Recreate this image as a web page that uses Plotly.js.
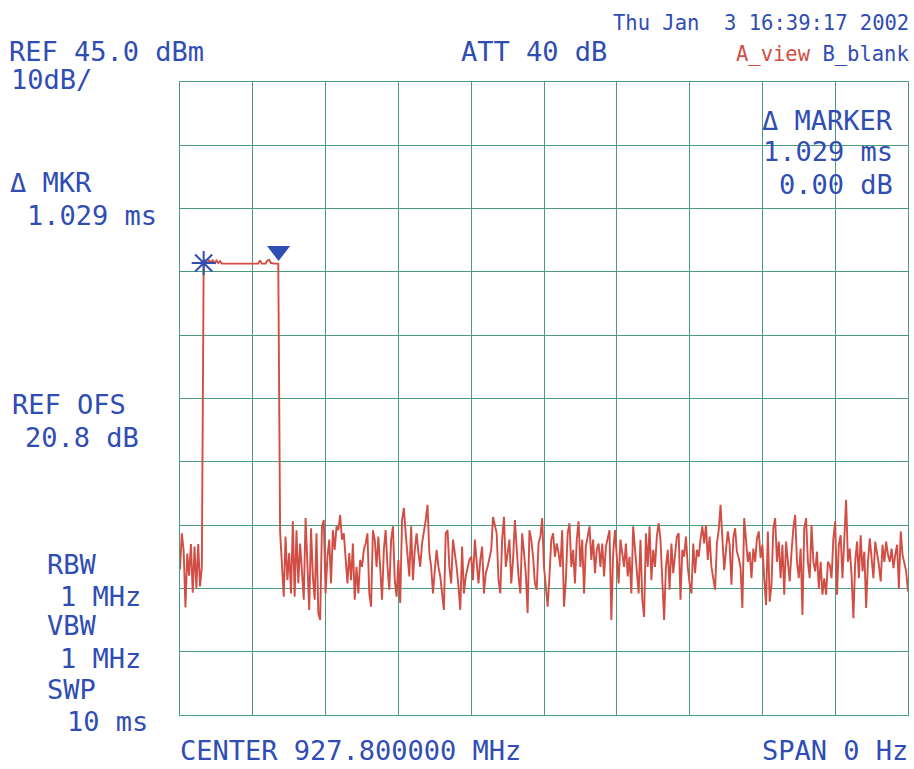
<!DOCTYPE html>
<html><head><meta charset="utf-8">
<script src="https://cdn.plot.ly/plotly-3.0.1.min.js"></script>
<style>html,body{margin:0;padding:0;background:#fff}#chart{width:914px;height:769px}</style>
</head><body><div id="chart"></div>
<script>
// ---- data ----
const SWEEP_MS = 10;          // SWP 10 ms, zero span, time on x
const REF_LEVEL_DBM = 45;     // REF 45.0 dBm
const DB_PER_DIV = 10;        // 10dB/
const N_DIV = 10;

// trace level (dBm), 401 sweep points
const preNoise = [-32.0,-26.3,-29.0,-38.0,-29.5,-33.0,-28.0,-35.7,-28.4,-35.0,-28.0,-34.7,-31.6];
const pulseTop = [16.4,16.8,16.3,16.9,16.4,16.9,16.3,16.8,16.4,16.7,
  16.3,16.3,16.3,16.3,16.3,16.3,16.3,16.3,16.3,16.3,16.3,16.3,16.3,16.3,16.3,16.3,16.3,16.3,16.3,16.3,16.3,
  16.8,16.3,16.3,16.3,16.8,16.9,16.4,16.3,16.3,16.3,16.3];
const noiseA = [-26.0,-32.1,-36.3,-26.8,-33.7,-29.4,-35.8,-24.4,-36.3,-25.8,-34.2,-27.9,-32.1,-36.8,-23.9,-31.6,-38.4,-25.5,-33.1,-36.8,
  -26.3,-38.9,-40.0,-25.2,-24.2,-35.8,-30.0,-27.3,-34.2,-25.8,-28.9,-25.2,-25.8,-23.4,-27.3,-26.3,-30.0,-34.2,-29.4,-33.7,
  -27.9,-36.8,-31.6,-35.8];
const noiseB = [-30.5,-31.6,-28.9,-27.9,-26.3,-35.8,-37.9,-25.8,-27.3,-31.6,-26.8,-32.6,-36.8,-28.9,-25.8,-31.6,-35.2,-27.3,-25.2,-33.7,
  -36.3,-30.5,-37.3,-24.2,-22.3,-26.3,-30.5,-33.1,-25.2,-33.7,-28.9,-26.3,-29.4,-31.6,-27.9,-26.3,-24.2,-21.8,-29.4,-31.6,
  -35.8,-32.1,-28.9,-31.6,-33.1,-35.8,-38.4,-26.3,-25.8,-31.6,-34.2,-27.3,-29.4,-31.6,-34.7,-38.4,-28.4,-35.8,-33.1,-31.6,
  -30.5,-30.0,-33.7,-27.3,-31.6,-34.2,-30.5,-28.4,-35.8,-32.6,-31.6,-30.0,-28.9,-23.7,-25.2,-26.3,-33.7,-35.8,-27.3,-23.7,
  -31.6,-28.9,-27.3,-34.2,-30.5,-24.2,-28.9,-33.1,-35.8,-26.3,-29.4,-32.6,-38.9,-25.8,-27.3,-30.0,-34.2,-35.2,-27.9,-26.8,
  -23.9];
const noiseC = [-31.6,-34.7,-37.9,-33.1,-27.3,-26.3,-30.0,-27.9,-29.4,-31.6,-25.8,-37.9,-33.7,-26.3,-24.7,-31.6,-28.9,-34.2,-27.3,-24.4,
  -31.6,-27.3,-35.8,-28.4,-26.8,-25.2,-30.5,-27.3,-32.6,-28.9,-27.9,-31.6,-27.9,-33.1,-28.4,-26.8,-25.8,-40.0,-29.4,-25.8,
  -30.0,-34.2,-27.3,-29.4,-31.6,-27.9,-33.1,-30.0,-35.8,-25.2,-28.9,-31.6,-35.8,-27.3,-36.8,-39.5,-26.3,-31.6,-25.2,-33.7,
  -28.9,-31.6,-26.8,-24.7,-27.3,-33.7,-40.0,-31.6,-28.9,-35.2,-27.9,-32.6,-29.4,-26.8,-26.3,-36.8,-28.9,-30.0,-26.8,-31.6,
  -34.2,-35.8,-27.9,-32.6,-28.9,-30.0,-27.3,-25.2,-27.9,-25.0,-30.5,-26.8,-31.6,-33.7,-35.2,-27.9,-25.8,-21.8,-27.3,-32.1,
  -28.9];
const noiseD = [-26.0,-28.1,-34.4,-27.1,-25.5,-29.2,-30.2,-31.8,-38.1,-23.9,-28.1,-30.8,-29.2,-33.4,-28.7,-30.8,-27.1,-26.0,-30.2,-28.1,
  -33.4,-37.6,-26.0,-37.1,-34.4,-25.5,-23.9,-30.8,-27.6,-33.4,-28.1,-36.0,-27.6,-31.3,-33.9,-29.2,-25.5,-23.4,-30.8,-33.4,
  -28.7,-39.2,-25.5,-23.9,-30.8,-33.4,-25.0,-30.8,-32.3,-29.2,-35.0,-30.8,-36.0,-33.4,-36.0,-30.8,-31.3,-33.4,-27.1,-24.4,
  -36.0,-28.1,-26.6,-33.4,-28.1,-21.0,-30.8,-28.7,-32.9,-39.7,-30.8,-27.6,-33.4,-26.6,-32.3,-29.2,-38.1,-30.8,-27.1,-30.8,
  -33.4,-27.6,-29.2,-31.3,-33.9,-28.1,-30.8,-27.6,-29.7,-30.8,-28.7,-31.8,-29.7,-28.1,-35.0,-26.0,-29.7,-30.8,-32.3,-35.5];

// markers
const markerIndex = [13];       // reference marker on the trace (sweep point)
const deltaMs = [1.029];        // Δ MKR 1.029 ms
const deltaDb = [0.00];         // 0.00 dB

// ---- build ----
const level = [].concat(preNoise, pulseTop, noiseA, noiseB, noiseC, noiseD);
const nPts = level.length;
const timeMs = level.map((_, i) => i * SWEEP_MS / (nPts - 1));
const mkrT = timeMs[markerIndex[0]];
const mkrL = level[markerIndex[0]];

const BLUE = '#2f4db3', RED = '#d24d43', GRID = '#4b9b7f';
const FONT = 'DejaVu Sans Mono';
const TRI_LIFT_DB = 1.9; // style: lift triangle glyph above its point

const traces = [
  {x: timeMs, y: level, type: 'scatter', mode: 'lines',
   line: {color: RED, width: 1.9}, hoverinfo: 'skip'},
  {x: [mkrT], y: [mkrL], type: 'scatter', mode: 'markers',
   marker: {symbol: 'asterisk-open', size: 20, color: BLUE, line: {color: BLUE, width: 2}}},
  {x: [mkrT + deltaMs[0]], y: [mkrL + deltaDb[0] + TRI_LIFT_DB], type: 'scatter', mode: 'markers',
   marker: {symbol: 'triangle-down', size: 20, color: BLUE, line: {width: 0}}}
];

const L = 180, T = 82, W = 728, H = 633;
const px = x => (x - L) / W;
const py = y => (T + H - y) / H;
function ann(text, x, y, xa, size, color) {
  return {text: text, x: px(x), y: py(y), xref: 'paper', yref: 'paper',
    xanchor: xa, yanchor: 'middle', showarrow: false, borderpad: 0,
    font: {family: FONT, size: size, color: color || BLUE}};
}
const BIG = 27, SMALL = 20.5;
const annotations = [
  ann('Thu Jan  3 16:39:17 2002', 910, 23, 'right', SMALL),
  ann('REF 45.0 dBm', 8, 52, 'left', BIG),
  ann('10dB/', 10, 80, 'left', BIG),
  ann('ATT 40 dB', 460, 52, 'left', BIG),
  ann('<span style="color:' + RED + '">A_view</span> B_blank', 910, 54, 'right', SMALL),
  ann('Δ MARKER', 894, 121, 'right', BIG),
  ann('1.029 ms', 894, 152, 'right', BIG),
  ann('0.00 dB', 894, 184, 'right', BIG),
  ann('Δ MKR', 9, 183, 'left', BIG),
  ann('1.029 ms', 26, 215, 'left', BIG),
  ann('REF OFS', 11, 404, 'left', BIG),
  ann('20.8 dB', 24, 437, 'left', BIG),
  ann('RBW', 46, 564, 'left', BIG),
  ann('1 MHz', 59, 596, 'left', BIG),
  ann('VBW', 46, 625, 'left', BIG),
  ann('1 MHz', 59, 658, 'left', BIG),
  ann('SWP', 46, 689, 'left', BIG),
  ann('10 ms', 66, 721, 'left', BIG),
  ann('CENTER 927.800000 MHz', 179, 750, 'left', BIG),
  ann('SPAN 0 Hz', 909, 750, 'right', BIG)
];

const layout = {
  width: 914, height: 769,
  margin: {l: L, r: 914 - L - W, t: T, b: 769 - T - H, pad: 0},
  paper_bgcolor: '#ffffff', plot_bgcolor: '#ffffff',
  showlegend: false,
  xaxis: {range: [0, SWEEP_MS], dtick: SWEEP_MS / N_DIV, tick0: 0, showticklabels: false,
    showgrid: true, gridcolor: GRID, gridwidth: 1, zeroline: false,
    showline: true, linecolor: GRID, linewidth: 1, mirror: true, ticks: ''},
  yaxis: {range: [REF_LEVEL_DBM - DB_PER_DIV * N_DIV, REF_LEVEL_DBM], dtick: DB_PER_DIV,
    tick0: REF_LEVEL_DBM, showticklabels: false,
    showgrid: true, gridcolor: GRID, gridwidth: 1, zeroline: false,
    showline: true, linecolor: GRID, linewidth: 1, mirror: true, ticks: ''},
  annotations: annotations
};

Plotly.newPlot('chart', traces, layout, {staticPlot: true, displayModeBar: false});
</script>
</body></html>
